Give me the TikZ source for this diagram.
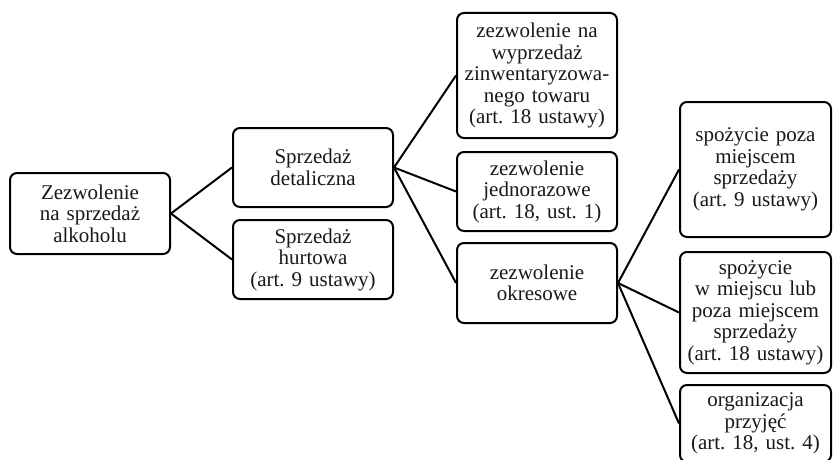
\documentclass[tikz,border=0pt]{standalone}
\usepackage{fontspec}
\setmainfont{Liberation Serif}
\frenchspacing
\tikzset{
  box/.style={draw=black, line width=2pt, rounded corners=7pt, inner sep=2pt,
    align=center, font=\fontsize{21}{21.5}\selectfont\frenchspacing, text=black!90},
  link/.style={draw=black, line width=2pt}
}
\begin{document}
\begin{tikzpicture}[x=1pt,y=-1pt]
\useasboundingbox (0,0) rectangle (833,460);
\fill[white] (0,0) rectangle (833,460);
\node[box, minimum width=160pt, minimum height=81pt, text width=154pt] (b1) at (90,213.5) {Zezwolenie\\na sprzedaż\\alkoholu};
\node[box, minimum width=160pt, minimum height=79pt, text width=154pt] (b2) at (313,167.5) {Sprzedaż\\detaliczna};
\node[box, minimum width=160pt, minimum height=79pt, text width=154pt] (b3) at (313,259.5) {Sprzedaż\\hurtowa\\(art. 9 ustawy)};
\node[box, minimum width=160pt, minimum height=125pt, text width=154pt] (b4) at (537,75.5) {zezwolenie na\\wyprzedaż\\zinwentaryzowa-\\nego towaru\\(art. 18 ustawy)};
\node[box, minimum width=160pt, minimum height=79pt, text width=154pt] (b5) at (537,191.5) {zezwolenie\\jednorazowe\\(art. 18, ust. 1)};
\node[box, minimum width=160pt, minimum height=80pt, text width=154pt] (b6) at (537,283) {zezwolenie\\okresowe};
\node[box, minimum width=151pt, minimum height=135pt, text width=147pt] (b7) at (755.5,169.5) {spożycie poza\\miejscem\\sprzedaży\\(art. 9 ustawy)};
\node[box, minimum width=151pt, minimum height=121pt, text width=147pt] (b8) at (755.5,312.5) {spożycie\\w miejscu lub\\poza miejscem\\sprzedaży\\(art. 18 ustawy)};
\node[box, minimum width=151pt, minimum height=77pt, text width=147pt] (b9) at (755.5,423.5) {organizacja\\przyjęć\\(art. 18, ust. 4)};
\draw[link] (b1.east) -- (b2.west);
\draw[link] (b1.east) -- (b3.west);
\draw[link] (b2.east) -- (b4.west);
\draw[link] (b2.east) -- (b5.west);
\draw[link] (b2.east) -- (b6.west);
\draw[link] (b6.east) -- (b7.west);
\draw[link] (b6.east) -- (b8.west);
\draw[link] (b6.east) -- (b9.west);
\end{tikzpicture}
\end{document}
